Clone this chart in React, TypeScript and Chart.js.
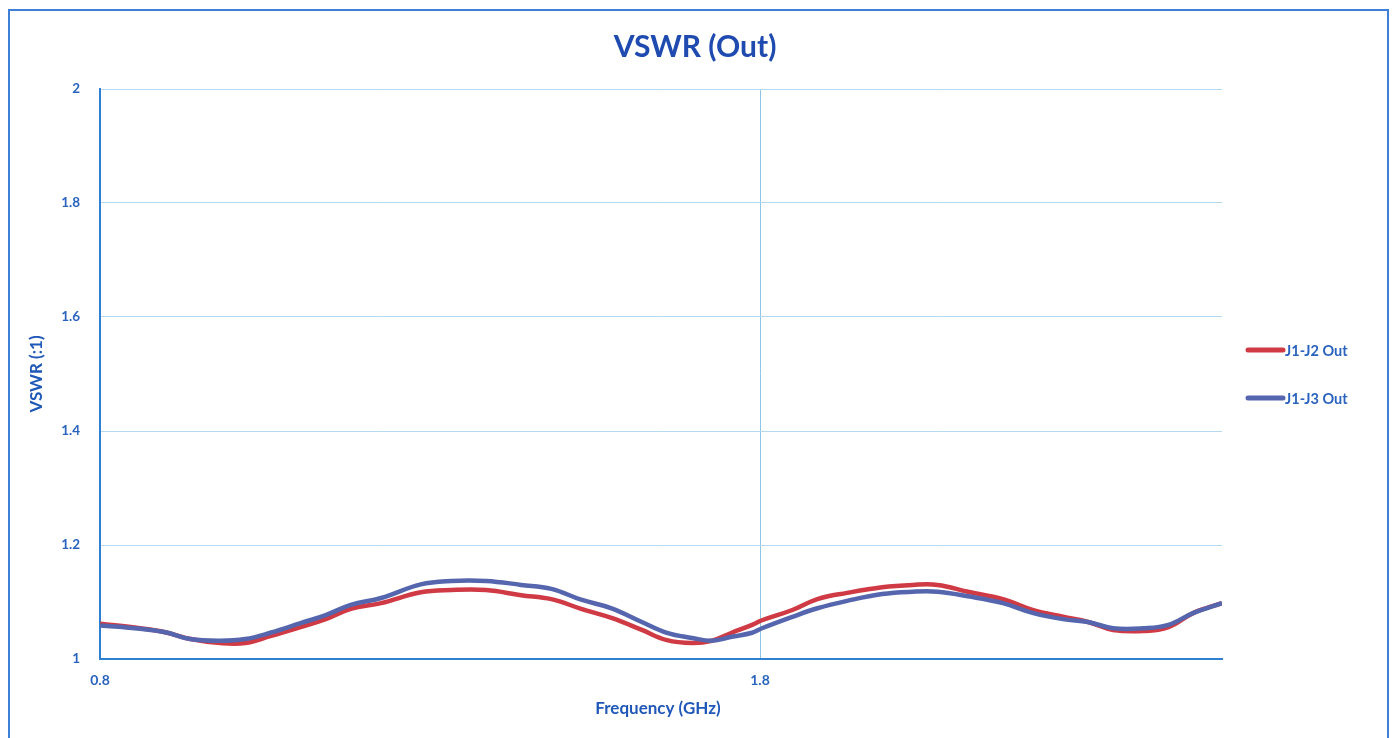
import React, { useEffect, useRef } from "react";
import { Chart, registerables } from "chart.js";

Chart.register(...registerables);

const freqs = [
  0.8, 0.861, 0.899, 0.937, 0.982, 1.02, 1.058, 1.104, 1.142, 1.18, 1.226, 1.286,
  1.332, 1.385, 1.438, 1.484, 1.529, 1.575, 1.621, 1.659, 1.697, 1.727, 1.757,
  1.788, 1.803, 1.849, 1.887, 1.932, 1.985, 2.031, 2.069, 2.115, 2.168, 2.213,
  2.259, 2.297, 2.335, 2.381, 2.419, 2.457, 2.5,
];
const j1j2Out = [
  1.062, 1.054, 1.047, 1.035, 1.028, 1.028, 1.04, 1.056, 1.07, 1.088, 1.098, 1.117,
  1.121, 1.121, 1.112, 1.105, 1.088, 1.072, 1.051, 1.033, 1.028, 1.032, 1.046,
  1.06, 1.068, 1.086, 1.105, 1.116, 1.126, 1.13, 1.13, 1.118, 1.105, 1.086,
  1.074, 1.065, 1.051, 1.049, 1.056, 1.081, 1.098,
];
const j1j3Out = [
  1.059, 1.053, 1.047, 1.035, 1.032, 1.035, 1.046, 1.063, 1.077, 1.095, 1.107, 1.131,
  1.137, 1.137, 1.13, 1.123, 1.104, 1.089, 1.065, 1.046, 1.037, 1.032, 1.039,
  1.046, 1.054, 1.074, 1.089, 1.102, 1.114, 1.118, 1.118, 1.11, 1.098, 1.081,
  1.07, 1.065, 1.054, 1.054, 1.06, 1.081, 1.098,
];
const xTickValues = [0.8, 1.8];
const yTickValues = [1, 1.2, 1.4, 1.6, 1.8, 2];
const seriesNames = ["J1-J2 Out", "J1-J3 Out"];
const seriesColors = ["#cf3a44", "#5566ae"];

const FONT = "Lato, 'Open Sans', sans-serif";
const TEXT_BLUE = "#2a63bd";

export default function App() {
  const ref = useRef<HTMLCanvasElement | null>(null);

  useEffect(() => {
    if (!ref.current) return;
    const textPlugin = {
      id: "texts",
      afterDraw(chart: any) {
        const ctx = chart.ctx as CanvasRenderingContext2D;
        const ca = chart.chartArea;
        ctx.save();
        // outer frame
        ctx.strokeStyle = "#3f80d6";
        ctx.lineWidth = 2;
        ctx.beginPath();
        ctx.moveTo(9, 745);
        ctx.lineTo(9, 10);
        ctx.lineTo(1388, 10);
        ctx.lineTo(1388, 745);
        ctx.stroke();
        // title
        ctx.fillStyle = "#1f4bb0";
        ctx.textAlign = "center";
        ctx.textBaseline = "middle";
        ctx.font = `bold 30px ${FONT}`;
        ctx.fillText("VSWR (Out)", 695, 47);
        // x title
        ctx.fillStyle = "#2058b8";
        ctx.font = `bold 17px ${FONT}`;
        ctx.fillText("Frequency (GHz)", (ca.left + ca.right) / 2 - 3, 709);
        // y title
        ctx.save();
        ctx.translate(37, (ca.top + ca.bottom) / 2);
        ctx.rotate(-Math.PI / 2);
        ctx.fillText("VSWR (:1)", 0, 0);
        ctx.restore();
        // legend
        const ys = [350, 398];
        seriesNames.forEach((name, i) => {
          ctx.strokeStyle = seriesColors[i];
          ctx.lineWidth = 5;
          ctx.lineCap = "round";
          ctx.beginPath();
          ctx.moveTo(1248, ys[i]);
          ctx.lineTo(1283, ys[i]);
          ctx.stroke();
          ctx.fillStyle = TEXT_BLUE;
          ctx.textAlign = "left";
          ctx.font = `bold 14.5px ${FONT}`;
          ctx.fillText(name, 1285, ys[i] + 1);
        });
        ctx.restore();
      },
    };

    const chart = new Chart(ref.current, {
      type: "line",
      data: {
        datasets: [
          {
            label: seriesNames[0],
            data: freqs.map((f, i) => ({ x: f, y: j1j2Out[i] })),
            borderColor: seriesColors[0],
            borderWidth: 4.5,
            pointRadius: 0,
            tension: 0.4,
            order: 1,
          },
          {
            label: seriesNames[1],
            data: freqs.map((f, i) => ({ x: f, y: j1j3Out[i] })),
            borderColor: seriesColors[1],
            borderWidth: 4.5,
            pointRadius: 0,
            tension: 0.4,
            order: 0,
          },
        ],
      },
      options: {
        responsive: false,
        animation: false,
        devicePixelRatio: 1,
        layout: { padding: { left: 0, top: 89, right: 170, bottom: 0 } },
        plugins: {
          legend: { display: false },
          title: { display: false },
          tooltip: { enabled: false },
        },
        scales: {
          x: {
            type: "linear",
            min: 0.8,
            max: 2.5,
            afterBuildTicks: (s: any) => {
              s.ticks = xTickValues.map((v) => ({ value: v }));
            },
            afterFit: (s: any) => {
              s.height = 79;
            },
            grid: { color: "#8ec4e8", lineWidth: 1, drawTicks: false },
            border: { display: true, color: "#2f7fd2", width: 2 },
            ticks: {
              color: TEXT_BLUE,
              font: { family: FONT, size: 14, weight: "bold" },
              padding: 13,
              maxRotation: 0,
              callback: (v: any) => Number(v).toFixed(1),
            },
          },
          y: {
            type: "linear",
            min: 1,
            max: 2,
            afterBuildTicks: (s: any) => {
              s.ticks = yTickValues.map((v) => ({ value: v }));
            },
            afterFit: (s: any) => {
              s.width = 100;
            },
            grid: { color: "#b3d8f0", lineWidth: 1, drawTicks: false },
            border: { display: true, color: "#2f7fd2", width: 2 },
            ticks: {
              color: TEXT_BLUE,
              font: { family: FONT, size: 13.5, weight: "bold" },
              padding: 20,
              callback: (v: any) => String(Number(Number(v).toFixed(1))),
            },
          },
        },
      },
      plugins: [textPlugin],
    });
    return () => chart.destroy();
  }, []);

  return (
    <div style={{ position: "fixed", left: 0, top: 0, width: 1392, height: 738, background: "#fff" }}>
      <canvas ref={ref} width={1392} height={738} style={{ width: 1392, height: 738, display: "block" }} />
    </div>
  );
}
